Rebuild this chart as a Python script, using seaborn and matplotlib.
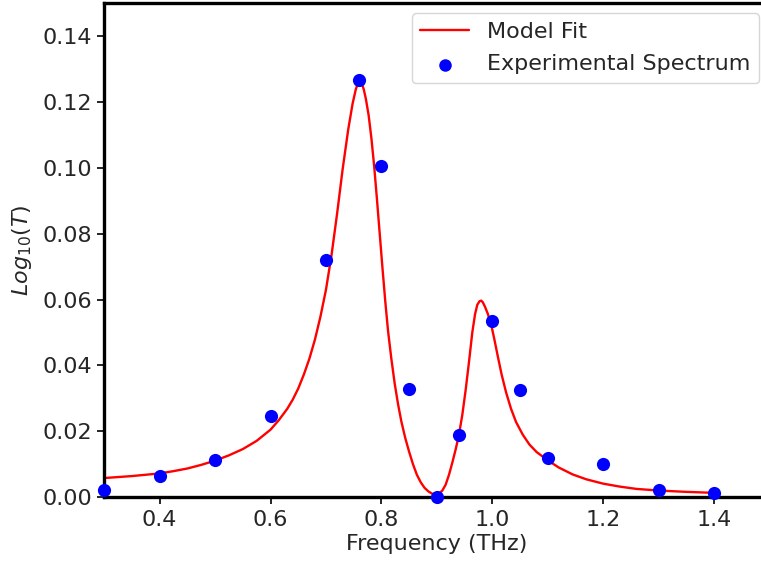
import matplotlib
matplotlib.use("Agg")
import matplotlib.pyplot as plt
import seaborn as sns
import pandas as pd

# Experimental spectrum
exp_freq = [0.30, 0.40, 0.50, 0.60, 0.70, 0.76, 0.80, 0.85, 0.90, 0.94,
            1.00, 1.05, 1.10, 1.20, 1.30, 1.40]
exp_logT = [0.0023, 0.0064, 0.0112, 0.0247, 0.0720, 0.1268, 0.1007, 0.0328,
            0.0001, 0.0190, 0.0535, 0.0325, 0.0120, 0.0100, 0.0023, 0.0013]

# Model fit curve
fit_freq = [0.300, 0.325, 0.350, 0.375, 0.400, 0.425, 0.450, 0.475, 0.500,
            0.525, 0.550, 0.575, 0.600, 0.615, 0.630, 0.640, 0.650, 0.660,
            0.670, 0.680, 0.690, 0.700, 0.710, 0.720, 0.730, 0.740, 0.748,
            0.754, 0.758, 0.761, 0.764, 0.768, 0.772, 0.777, 0.782, 0.787,
            0.792, 0.797, 0.802, 0.807, 0.812, 0.818, 0.824, 0.830, 0.836,
            0.843, 0.850, 0.857, 0.864, 0.871, 0.878, 0.885, 0.892, 0.898,
            0.904, 0.910, 0.916, 0.922, 0.928, 0.934, 0.940, 0.946, 0.952,
            0.958, 0.964, 0.969, 0.973, 0.977, 0.980, 0.983, 0.987, 0.992,
            0.998, 1.004, 1.010, 1.017, 1.025, 1.034, 1.043, 1.055, 1.067,
            1.080, 1.100, 1.120, 1.145, 1.170, 1.200, 1.230, 1.260, 1.300,
            1.350, 1.400]
fit_logT = [0.0058, 0.0061, 0.0064, 0.0068, 0.0072, 0.0079, 0.0087, 0.0098,
            0.0111, 0.0127, 0.0146, 0.0171, 0.0205, 0.0234, 0.0268, 0.0296,
            0.0330, 0.0372, 0.0420, 0.0478, 0.0548, 0.0630, 0.0735, 0.0860,
            0.0995, 0.1115, 0.1195, 0.1240, 0.1258, 0.1264, 0.1259, 0.1240,
            0.1210, 0.1160, 0.1090, 0.1005, 0.0905, 0.0800, 0.0695, 0.0595,
            0.0505, 0.0420, 0.0345, 0.0283, 0.0230, 0.0180, 0.0138, 0.0100,
            0.0068, 0.0045, 0.0028, 0.0017, 0.0010, 0.0008, 0.0011, 0.0020,
            0.0038, 0.0068, 0.0105, 0.0145, 0.0190, 0.0250, 0.0325, 0.0410,
            0.0500, 0.0556, 0.0584, 0.0595, 0.0597, 0.0592, 0.0578, 0.0557,
            0.0525, 0.0478, 0.0428, 0.0372, 0.0318, 0.0268, 0.0228, 0.0190,
            0.0160, 0.0137, 0.0112, 0.0090, 0.0069, 0.0054, 0.0041, 0.0032,
            0.0025, 0.0020, 0.0016, 0.0013]

x_ticks = [0.4, 0.6, 0.8, 1.0, 1.2, 1.4]
y_ticks = [0.00, 0.02, 0.04, 0.06, 0.08, 0.10, 0.12, 0.14]

sns.set_theme(style="ticks")
plt.rcParams['font.family'] = ['DejaVu Sans']

fit_df = pd.DataFrame({"Frequency": fit_freq, "LogT": fit_logT})
exp_df = pd.DataFrame({"Frequency": exp_freq, "LogT": exp_logT})

fig = plt.figure(figsize=(7.61, 5.63), dpi=100)
ax = fig.add_axes([0.137, 0.117, 0.874, 0.877])

sns.lineplot(data=fit_df, x="Frequency", y="LogT", sort=False, color="red",
             linewidth=1.7, label="Model Fit", ax=ax)
sns.scatterplot(data=exp_df, x="Frequency", y="LogT", color="blue", s=90,
                linewidth=0, label="Experimental Spectrum", ax=ax, zorder=3,
                clip_on=False)

ax.set_xlim(0.3, 1.5)
ax.set_ylim(0.0, 0.15)
ax.set_xticks(x_ticks)
ax.set_yticks(y_ticks)
ax.set_xticklabels([f"{v:.1f}" for v in x_ticks])
ax.set_yticklabels([f"{v:.2f}" for v in y_ticks])
ax.tick_params(axis="both", labelsize=16, length=5, width=1.2, color="black",
               direction="out", pad=4)
ax.set_xlabel("Frequency (THz)", fontsize=16, labelpad=3)
ax.set_ylabel("$Log_{10}(T)$", fontsize=16, labelpad=6)
for side in ["left", "bottom", "top", "right"]:
    ax.spines[side].set_visible(True)
    ax.spines[side].set_linewidth(2.4)
    ax.spines[side].set_color("black")

leg = ax.legend(loc="upper right", fontsize=16, frameon=True,
                borderaxespad=0.45, handlelength=2.2, markerscale=0.95,
                borderpad=0.4, labelspacing=0.55)
leg.get_frame().set_edgecolor("#cccccc")

fig.savefig("out.png", dpi=100)
